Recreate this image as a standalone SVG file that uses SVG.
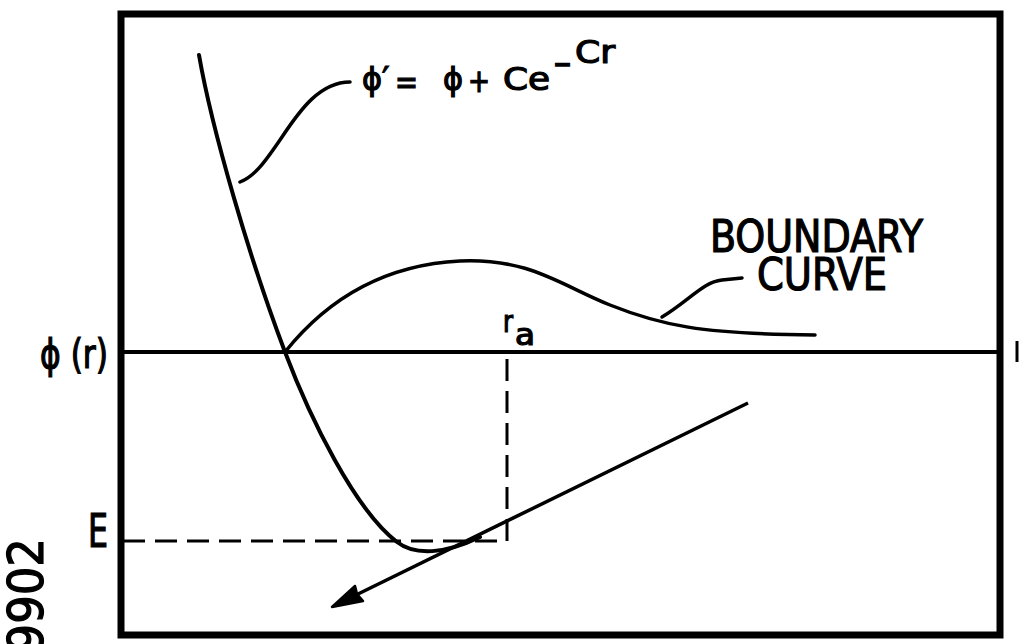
<svg xmlns="http://www.w3.org/2000/svg" width="1019" height="644" viewBox="0 0 1019 644">
<style>
.t{font-family:"DejaVu Sans Condensed","DejaVu Sans","Liberation Sans",sans-serif;fill:#000;stroke:#000;stroke-width:1.2}
.ln{fill:none;stroke:#000;stroke-linecap:round;stroke-linejoin:round}
.dash{fill:none;stroke:#000;stroke-width:3;stroke-dasharray:22 10}
</style>
<rect width="1019" height="644" fill="#fff"/>
<g id="frame">
<rect x="121" y="14" width="879" height="621" fill="none" stroke="#000" stroke-width="7"/>
<line x1="121" y1="352" x2="1000" y2="352" stroke="#000" stroke-width="4"/>
<line x1="1017" y1="341" x2="1017" y2="362" stroke="#000" stroke-width="3"/>
</g>
<g id="connectors">
<path id="potential-curve" class="ln" stroke-width="4" d="M199,55 C212,130 250,260 285,352 C310,418 355,510 397,542 C415,556 445,554 480,537"/>
<path id="boundary-curve" class="ln" stroke-width="3.5" d="M285,352 C325,302 380,265 460,261 C530,258 560,285 610,305 C660,325 700,334 815,335"/>
<line id="trajectory" x1="748" y1="403" x2="356" y2="595" stroke="#000" stroke-width="3.5"/>
<polygon id="trajectory-head" points="332,607 363,601 357,594 355,586" fill="#000" stroke="#000" stroke-width="2.5" stroke-linejoin="round"/>
<path id="E-ra-guides" class="dash" d="M123,541 H507 V355"/>
<path id="formula-leader" class="ln" stroke-width="3.5" d="M350,82 C320,82 300,110 282,137 C265,162 255,176 240,182"/>
<path id="boundary-leader" class="ln" stroke-width="3.5" d="M662,317 C690,300 703,282 722,280 L742,278"/>
</g>
<g id="formula">
<text class="t" x="362" y="90" font-size="32" textLength="20" lengthAdjust="spacingAndGlyphs">ϕ</text>
<text class="t" x="382" y="92" font-size="36">′</text>
<text class="t" x="395" y="94" font-size="34" textLength="23" lengthAdjust="spacingAndGlyphs">=</text>
<text class="t" x="443" y="90" font-size="32" textLength="20" lengthAdjust="spacingAndGlyphs">ϕ</text>
<text class="t" x="468" y="92" font-size="32" textLength="22" lengthAdjust="spacingAndGlyphs">+</text>
<text class="t" x="503" y="90" font-size="32" textLength="47" lengthAdjust="spacingAndGlyphs">Ce</text>
<text class="t" x="553" y="75" font-size="32" textLength="19" lengthAdjust="spacingAndGlyphs">−</text>
<text class="t" x="575" y="63" font-size="32" textLength="40" lengthAdjust="spacingAndGlyphs">Cr</text>
</g>
<g id="boundary-label">
<text class="t" x="710" y="252" font-size="45" textLength="213" lengthAdjust="spacingAndGlyphs">BOUNDARY</text>
<text class="t" x="757" y="290" font-size="45" textLength="130" lengthAdjust="spacingAndGlyphs">CURVE</text>
</g>
<g id="axis-labels">
<text class="t" x="40" y="368" font-size="40" textLength="68" lengthAdjust="spacingAndGlyphs">ϕ (r)</text>
<text class="t" x="88" y="547" font-size="46" textLength="20" lengthAdjust="spacingAndGlyphs">E</text>
<text class="t" x="503" y="332" font-size="30" textLength="10" lengthAdjust="spacingAndGlyphs">r</text>
<text class="t" x="515" y="345" font-size="30" textLength="20" lengthAdjust="spacingAndGlyphs">a</text>
</g>
<g id="figure-number">
<text class="t" font-size="50" text-anchor="end" transform="translate(43,538) rotate(-90)">99902</text>
</g>
</svg>
